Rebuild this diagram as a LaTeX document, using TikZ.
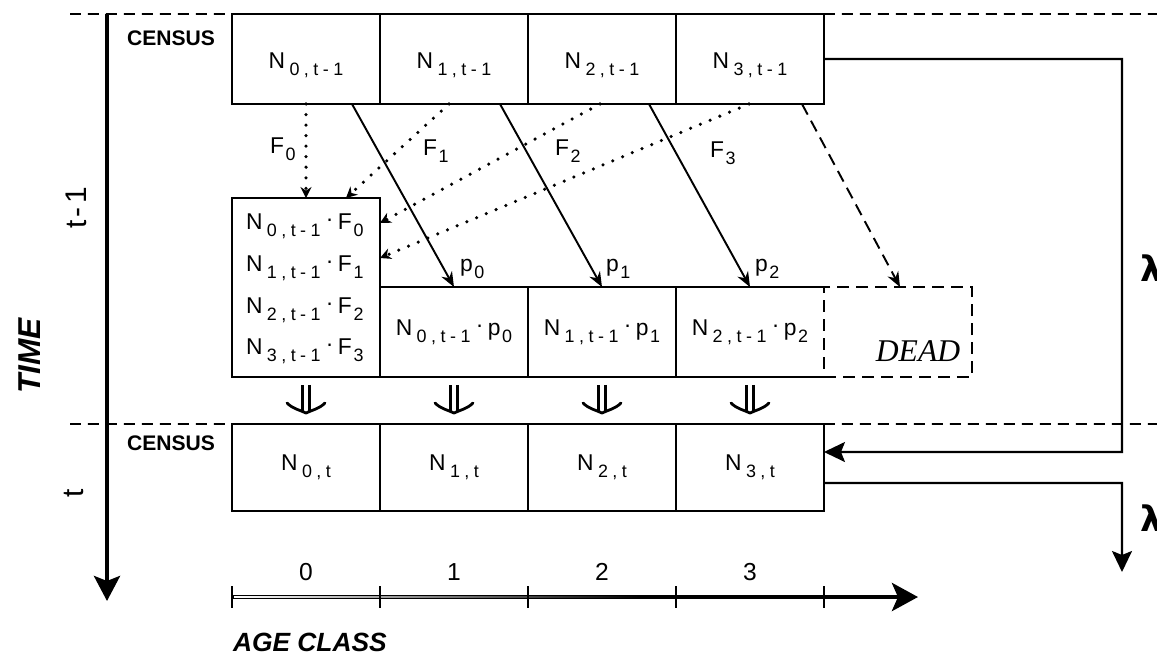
\documentclass[tikz,border=0pt]{standalone}
\usepackage{fontspec}
\setmainfont{Liberation Sans}
\newfontfamily\subfont[LetterSpace=25]{Liberation Sans}
\newfontfamily\deadfont{Liberation Serif}
\newfontfamily\dvfont{DejaVu Sans}
\usetikzlibrary{arrows.meta}
\newcommand\Nlab[1]{N\hspace{2.5pt}\raisebox{-4.5pt}{\fontsize{10.2}{11}\subfont #1}}
\newcommand\Slab[2]{#1\hspace{1pt}\raisebox{-4.5pt}{\fontsize{10.2}{11}\selectfont #2}}
\newcommand\pdot{\hspace{3pt}\raisebox{1.5pt}{·}\hspace{2.5pt}}
\newcommand\dblarrow[2]{%
  \draw[dblarr] ([yshift=-0.16cm]#1.south) -- ([yshift=0.26cm]#2.north);
  \draw[chev, shift={(#2.north)}] (-19,-21) .. controls (-13,-15) and (-6,-14) .. (0,-11) .. controls (6,-14) and (13,-15) .. (19,-21);}
\begin{document}
\begin{tikzpicture}[x=0.02cm,y=-0.02cm,
  every node/.style={font=\fontsize{13}{15}\selectfont, inner sep=0pt, outer sep=0pt},
  cellbase/.style={line width=1.2pt, minimum width=2.96cm, minimum height=1.8cm, text depth=0cm},
  celltop/.style={cellbase, draw, text height=0.36cm},
  cellmid/.style={cellbase, text height=0.12cm},
  cellbot/.style={cellbase, draw, minimum height=1.74cm, text height=0.1cm},
  leftbox/.style={draw, line width=1.2pt, minimum width=2.96cm, minimum height=3.58cm},
  deadbox/.style={draw, line width=1.2pt, dash pattern=on 0.24cm off 0.14cm, minimum width=2.96cm, minimum height=1.8cm},
  dashln/.style={line width=1pt, dash pattern=on 0.22cm off 0.14cm},
  dotarr/.style={line width=2pt, line cap=round, dash pattern=on 0pt off 6pt, -{Stealth[length=0.22cm,width=0.22cm]}},
  solarr/.style={line width=1.1pt, -{Stealth[length=0.3cm,width=0.24cm]}},
  deadarr/.style={line width=1.1pt, dash pattern=on 0.24cm off 0.14cm, -{Stealth[length=0.3cm,width=0.24cm]}},
  bigarr/.style={line width=1.2pt, -{Stealth[length=0.42cm,width=0.4cm,inset=0.08cm]}},
  dblarr/.style={double, double distance=2.4pt, line width=1.4pt},
  chev/.style={line width=1.6pt, line cap=round, line join=round},
  census/.style={font=\fontsize{12}{14}\selectfont\bfseries},
  agenum/.style={font=\fontsize{14}{16}\selectfont}
]
\useasboundingbox (0,0) rectangle (1157,656);
\fill[white] (0,0) rectangle (1157,656);

% top row (census t-1)
\node[celltop] (t0) at (306,59) {\Nlab{0,t-1}};
\node[celltop] (t1) at (454,59) {\Nlab{1,t-1}};
\node[celltop] (t2) at (602,59) {\Nlab{2,t-1}};
\node[celltop] (t3) at (750,59) {\Nlab{3,t-1}};

% middle
\node[leftbox] (L) at (306,287.5) {};
\node[anchor=base west] (lf0) at (246,229) {\Nlab{0,t-1}\pdot\Slab{F}{0}};
\node[anchor=base west] (lf1) at (246,271) {\Nlab{1,t-1}\pdot\Slab{F}{1}};
\node[anchor=base west] (lf2) at (246,313) {\Nlab{2,t-1}\pdot\Slab{F}{2}};
\node[anchor=base west] (lf3) at (246,354) {\Nlab{3,t-1}\pdot\Slab{F}{3}};

\node[cellmid, draw] (m1) at (454,332) {\Nlab{0,t-1}\pdot\Slab{p}{0}};
\node[cellmid, draw] (m2) at (602,332) {\Nlab{1,t-1}\pdot\Slab{p}{1}};
\node[cellmid] (m3) at (750,332) {\Nlab{2,t-1}\pdot\Slab{p}{2}};
\draw[line width=1.2pt] (m3.north east) -- (m3.north west) -- (m3.south west) -- (m3.south east);
\node[deadbox] (D) at (898,332) {};
\node[font=\fontsize{18}{20}\deadfont\itshape] (deadlbl) at (918,351) {DEAD};

% bottom row (census t)
\node[cellbot] (b0) at (306,467.5) {\Nlab{0,t}};
\node[cellbot] (b1) at (454,467.5) {\Nlab{1,t}};
\node[cellbot] (b2) at (602,467.5) {\Nlab{2,t}};
\node[cellbot] (b3) at (750,467.5) {\Nlab{3,t}};

% census dashed lines
\coordinate (dA) at (70,14);
\coordinate (dB) at (1162,14);
\coordinate (dC) at (70,424);
\coordinate (dD) at (1162,424);
\draw[dashln] (dA) -- (t0.north west);
\draw[dashln] (t3.north east) -- (dB);
\draw[dashln] (dC) -- (b0.north west);
\draw[dashln] (b3.north east) -- (dD);

\node[census] (cen1) at (171,38) {CENSUS};
\node[census] (cen2) at (171,443) {CENSUS};

% fecundity (dotted)
\draw[dotarr] (t0.south) -- (L.north);
\draw[dotarr] ([xshift=1.38cm]t1.south west) -- ([xshift=2.28cm]L.north west);
\draw[dotarr] ([xshift=1.44cm]t2.south west) -- ([yshift=-0.5cm]L.north east);
\draw[dotarr] ([xshift=1.46cm]t3.south west) -- ([yshift=-1.2cm]L.north east);
\node[anchor=base west] (F0) at (270,153) {\Slab{F}{0}};
\node[anchor=base west] (F1) at (423,155) {\Slab{F}{1}};
\node[anchor=base west] (F2) at (555,155) {\Slab{F}{2}};
\node[anchor=base west] (F3) at (710,157) {\Slab{F}{3}};

% survival (solid)
\draw[solarr] ([xshift=2.4cm]t0.south west) -- (m1.north);
\draw[solarr] ([xshift=2.4cm]t1.south west) -- (m2.north);
\draw[solarr] ([xshift=2.42cm]t2.south west) -- (m3.north);
\draw[deadarr] ([xshift=2.52cm]t3.south west) -- ([xshift=0.04cm]D.north);
\node[anchor=base west] (p0) at (460,271) {\Slab{p}{0}};
\node[anchor=base west] (p1) at (606,271) {\Slab{p}{1}};
\node[anchor=base west] (p2) at (755,271) {\Slab{p}{2}};

% transitions to census t
\dblarrow{L}{b0}
\dblarrow{m1}{b1}
\dblarrow{m2}{b2}
\dblarrow{m3}{b3}

% right loop
\coordinate (ra) at (1122,59);
\coordinate (rb) at (1122,452);
\coordinate (rc) at (1122,483);
\coordinate (rd) at (1122,572);
\draw[bigarr] (t3.east) -- (ra) -- (rb) -- ([yshift=0.31cm]b3.east);
\draw[bigarr] ([yshift=-0.31cm]b3.east) -- (rc) -- (rd);
\node[anchor=west, font=\fontsize{20}{22}\dvfont\bfseries] (lam1) at (1140,268) {λ};
\node[anchor=west, font=\fontsize{20}{22}\dvfont\bfseries] (lam2) at (1140,518) {λ};

% time axis
\coordinate (ta) at (107,14);
\coordinate (tb) at (107,601);
\draw[line width=2.4pt, -{Stealth[length=0.5cm,width=0.52cm,inset=0.1cm]}] (ta) -- (tb);
\node[rotate=90, font=\fontsize{18}{20}\selectfont\bfseries\itshape] (time) at (30,356) {TIME};
\node[rotate=90, font=\fontsize{17}{19}\selectfont] (tm1) at (76,208) {t\hspace{2pt}-\hspace{2pt}1};
\node[rotate=90, font=\fontsize{17}{19}\selectfont] (tt) at (74,493) {t};

% age axis
\coordinate (aa) at (232,597);
\coordinate (ab) at (918,597);
\draw[line width=2.6pt, -{Stealth[length=0.52cm,width=0.56cm,inset=0.12cm]}] (aa) -- (ab);
\shade[left color=white, right color=black] (234,596.2) rectangle (640,597.8);
\foreach \xx in {232,380,528,676,824} {
  \draw[line width=1.4pt] (\xx,586) -- (\xx,608);
}
\node[agenum] (a0) at (306,572) {0};
\node[agenum] (a1) at (454,572) {1};
\node[agenum] (a2) at (602,572) {2};
\node[agenum] (a3) at (750,572) {3};
\node[anchor=west, font=\fontsize{15}{17}\selectfont\bfseries\itshape] (agecl) at (233,642) {AGE CLASS};
\end{tikzpicture}
\end{document}
